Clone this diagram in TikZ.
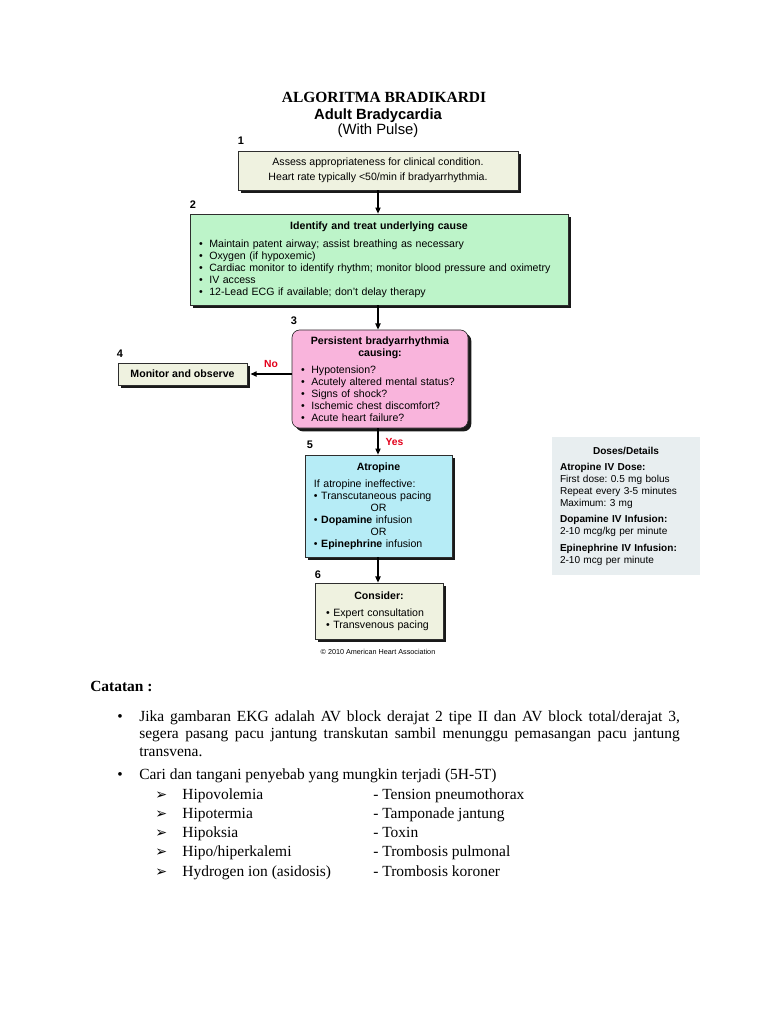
\documentclass[tikz,border=0pt]{standalone}
\usepackage{fontspec}
\setmainfont{Liberation Serif}
\setsansfont{Liberation Sans}
\newfontfamily\symfont{DejaVu Sans}
\usepackage{xcolor}
\usetikzlibrary{arrows.meta,shadows,positioning}
\definecolor{assessbg}{HTML}{EFF2E0}
\definecolor{causebg}{HTML}{BDF4C9}
\definecolor{persistbg}{HTML}{F9B4DC}
\definecolor{atrobg}{HTML}{B6ECF6}
\definecolor{dosebg}{HTML}{E8EEF0}
\definecolor{alertred}{HTML}{E3001B}
\definecolor{edgegray}{HTML}{2E2E2E}
\frenchspacing
\newcommand{\blt}{\makebox[8pt][l]{\textbullet}}
\newcommand{\ctr}[1]{\hspace*{\fill}#1\hspace*{\fill}\null}
\newcommand{\arrowbul}{{\symfont\fontsize{11}{12}\selectfont ➢}}

\begin{document}
\begin{tikzpicture}[x=0.775pt, y=-0.775pt,
  flow/.style={font=\sffamily\fontsize{8.2}{9.3}\selectfont},
  box/.style={
    rectangle, draw=edgegray, line width=0.5pt, flow,
    inner xsep=7pt, inner ysep=0pt, align=left,
    drop shadow={shadow xshift=2.6pt, shadow yshift=-2.6pt,
                 fill=black, opacity=0.9}
  },
  num/.style={font=\sffamily\bfseries\fontsize{8.5}{10}\selectfont},
  answer/.style={font=\sffamily\bfseries\fontsize{8}{10}\selectfont, text=alertred},
  arr/.style={-{Triangle[length=4.8pt, width=4pt]}, line width=1.1pt},
  note/.style={font=\fontsize{12}{13.9}\selectfont, inner sep=0pt}
]
\useasboundingbox[fill=white] (0,0) rectangle (768,1024);

%=== TITLES ===
\node (algo) at (384,97) {\fontsize{12}{14}\selectfont\bfseries ALGORITMA BRADIKARDI};
\node (adult) at (378,116) {\sffamily\bfseries\fontsize{11.5}{13}\selectfont Adult Bradycardia};
\node (pulse) at (378,131) {\sffamily\fontsize{11.5}{13}\selectfont (With Pulse)};

%=== FLOW BOXES ===
\node[box, fill=assessbg, align=center, minimum width=217pt, minimum height=30.2pt,
  font=\sffamily\fontsize{8.2}{11.6}\selectfont] (assess) at (378,170.5)
  {Assess appropriateness for clinical condition.\\
   Heart rate typically <50/min if bradyarrhythmia.};
\node[box, fill=causebg, text width=279pt, minimum height=70.5pt] (cause) at (379,259.5)
  {\ctr{\textbf{Identify and treat underlying cause}}\\[4.5pt]
   \blt Maintain patent airway; assist breathing as necessary\\
   \blt Oxygen (if hypoxemic)\\
   \blt Cardiac monitor to identify rhythm; monitor blood pressure and oximetry\\
   \blt IV access\\
   \blt 12-Lead ECG if available; don't delay therapy};
\node[box, fill=persistbg, rounded corners=6pt, text width=122.4pt, minimum height=76pt] (persist) at (380,379)
  {\ctr{\textbf{Persistent bradyarrhythmia}}\\
   \ctr{\textbf{causing:}}\\[4pt]
   \blt Hypotension?\\
   \blt Acutely altered mental status?\\
   \blt Signs of shock?\\
   \blt Ischemic chest discomfort?\\
   \blt Acute heart failure?};
\node[box, fill=assessbg, align=center, minimum width=100pt, minimum height=17pt] (monitor) at (182.5,374)
  {\textbf{Monitor and observe}};
\node[box, fill=atrobg, text width=100pt, minimum height=79pt] (atropine) at (378.5,506)
  {\ctr{\textbf{Atropine}}\\[4pt]
   If atropine ineffective:\\
   \textbullet\ Transcutaneous pacing\\
   \ctr{OR}\\
   \textbullet\ \textbf{Dopamine} infusion\\
   \ctr{OR}\\
   \textbullet\ \textbf{Epinephrine} infusion};
\node[box, fill=assessbg, inner xsep=8.5pt, text width=82pt, minimum height=43.4pt] (consider) at (379,611)
  {\ctr{\textbf{Consider:}}\\[4pt]
   \textbullet\ Expert consultation\\
   \textbullet\ Transvenous pacing};
\node[font=\sffamily\fontsize{7.8}{9.3}\selectfont, fill=dosebg, inner xsep=6.2pt, inner ysep=0pt,
  align=left, text width=102.3pt, minimum height=107pt] (doses) at (626,506)
  {\ctr{\textbf{Doses/Details}}\\[3pt]
   \textbf{Atropine IV Dose:}\\
   First dose: 0.5 mg bolus\\
   Repeat every 3-5 minutes\\
   Maximum: 3 mg\\[3.5pt]
   \textbf{Dopamine IV Infusion:}\\
   2-10 mcg/kg per minute\\[3.5pt]
   \textbf{Epinephrine IV Infusion:}\\
   2-10 mcg per minute};
\node[font=\sffamily\fontsize{5.6}{7}\selectfont] (aha) at (378,652)
  {\textcopyright\ 2010 American Heart Association};

%=== STEP NUMBERS ===
\node[num] (n1) at (241,141) {1};
\node[num] (n2) at (193,205) {2};
\node[num] (n3) at (294,321) {3};
\node[num] (n4) at (120,354) {4};
\node[num] (n5) at (310,445) {5};
\node[num] (n6) at (318,575) {6};

%=== ARROWS ===
\draw[arr] (assess.south) -- (assess.south |- cause.north);
\draw[arr] (assess.south |- cause.south) -- (assess.south |- persist.north);
\draw[arr] (persist.west |- monitor.east) -- ([xshift=2.4pt]monitor.east)
  node[answer, midway, above=1pt] (no) {No};
\draw[arr] (assess.south |- persist.south) -- (assess.south |- atropine.north)
  node[answer, midway, right=2pt] (yes) {Yes};
\draw[arr] (assess.south |- atropine.south) -- (assess.south |- consider.north);

%=== CATATAN ===
\node[note, anchor=base west] (catatan) at (90,691) {\textbf{Catatan :}};
\node[note, anchor=base] (dot1) at (120,721) {\textbullet};
\node[note, anchor=base west, text width=419pt, align=justify] (ekg) at (139,721)
  {Jika gambaran EKG adalah AV block derajat 2 tipe II dan AV block total/derajat 3,\linebreak
   segera pasang pacu jantung transkutan sambil menunggu pemasangan pacu jantung\linebreak
   transvena.};
\node[note, anchor=base] (dot2) at (120,779) {\textbullet};
\node[note, anchor=base west] (cari) at (139,779)
  {Cari dan tangani penyebab yang mungkin terjadi (5H-5T)};
\node[note, anchor=base west] (causes) at (155,799)
  {\def\arraystretch{1.075}%
   \begin{tabular}[t]{@{}p{21pt}@{}p{148pt}@{}l@{}}
   \arrowbul & Hipovolemia & - Tension pneumothorax\\
   \arrowbul & Hipotermia & - Tamponade jantung\\
   \arrowbul & Hipoksia & - Toxin\\
   \arrowbul & Hipo/hiperkalemi & - Trombosis pulmonal\\
   \arrowbul & Hydrogen ion (asidosis) & - Trombosis koroner
   \end{tabular}};

\end{tikzpicture}
\end{document}
